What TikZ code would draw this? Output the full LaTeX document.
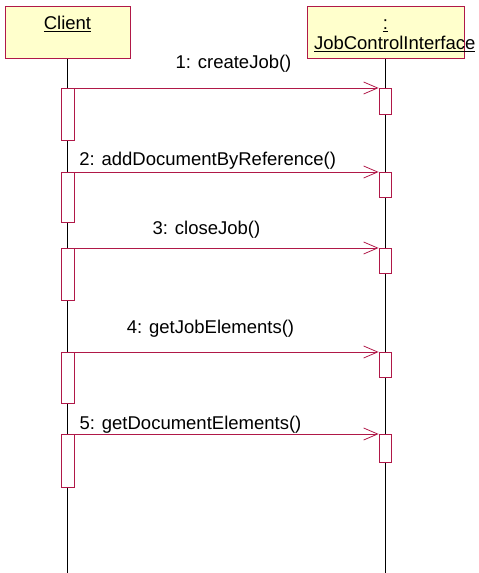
\documentclass[tikz,border=0pt]{standalone}
\usepackage{fontspec}
\setmainfont{Liberation Sans}
\usetikzlibrary{arrows.meta, positioning}
\definecolor{umlred}{RGB}{176,24,72}
\definecolor{umlyellow}{RGB}{255,255,204}

\tikzset{
  object/.style={rectangle, draw=umlred, fill=umlyellow, line width=0.8pt, anchor=north,
    inner xsep=7pt, inner ysep=7pt, text height=16pt, text depth=22pt,
    font=\fontsize{18.5}{20}\selectfont},
  activation/.style={rectangle, draw=umlred, fill=white, line width=0.8pt,
    minimum width=12.5pt, inner sep=0pt, anchor=north},
  message/.style={draw=umlred, line width=0.8pt, -{Straight Barb[length=14pt,width=12pt]}},
  msglabel/.style={anchor=base, inner sep=0pt, font=\fontsize{18.5}{20}\selectfont},
  lifeline/.style={draw=black, line width=0.8pt}
}

\begin{document}
\begin{tikzpicture}[x=1pt, y=-1pt]
        \useasboundingbox (0,0) rectangle (479,573);

        % objects
        \node[object, minimum width=125pt] (client) at (67.5,6) {\underline{Client}};
        \node[object, minimum width=157pt, text width=143pt, align=center] (jci) at (385.5,6)
            {\underline{:}\\\underline{JobControlInterface}};

        % lifelines
        \coordinate (clientend) at (67.5,573);
        \coordinate (jciend) at (385.5,573);
        \draw[lifeline] (client.south) -- (clientend);
        \draw[lifeline] (jci.south) -- (jciend);

        % activations
        \node[activation, minimum height=52pt] (c1) at (67.8,88) {};
        \node[activation, minimum height=26pt] (j1) at (385.3,88) {};
        \node[activation, minimum height=50pt] (c2) at (67.8,172) {};
        \node[activation, minimum height=25pt] (j2) at (385.3,172) {};
        \node[activation, minimum height=52pt] (c3) at (67.8,248) {};
        \node[activation, minimum height=25pt] (j3) at (385.3,248) {};
        \node[activation, minimum height=51pt] (c4) at (67.8,352) {};
        \node[activation, minimum height=25pt] (j4) at (385.3,352) {};
        \node[activation, minimum height=53pt] (c5) at (67.8,434) {};
        \node[activation, minimum height=28pt] (j5) at (385.3,434) {};

        % messages
        \draw[message] (c1.north east) -- (j1.north west);
        \node[msglabel] (l1) at (233.5,68) {1: createJob()};
        \draw[message] (c2.north east) -- (j2.north west);
        \node[msglabel] (l2) at (207.7,165) {2: addDocumentByReference()};
        \draw[message] (c3.north east) -- (j3.north west);
        \node[msglabel] (l3) at (206.5,234) {3: closeJob()};
        \draw[message] (c4.north east) -- (j4.north west);
        \node[msglabel] (l4) at (210.5,333) {4: getJobElements()};
        \draw[message] (c5.north east) -- (j5.north west);
        \node[msglabel] (l5) at (190.5,429) {5: getDocumentElements()};

    \end{tikzpicture}
\end{document}
